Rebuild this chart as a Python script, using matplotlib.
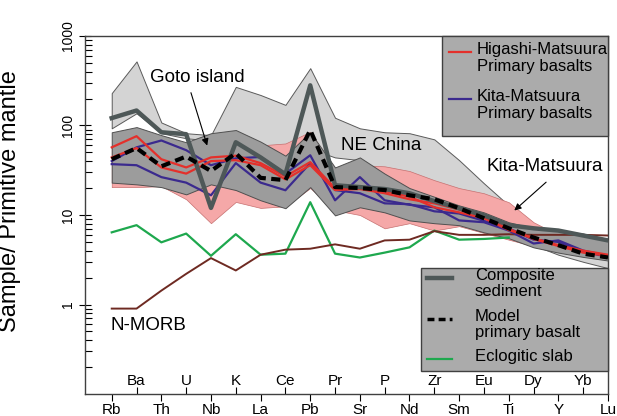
"""
Primitive-mantle normalised spider diagram: Kita/Higashi-Matsuura basalts
against Goto island, NE China, N-MORB, eclogitic slab and composite sediment.
"""

import matplotlib.pyplot as plt
from matplotlib.patches import Rectangle
from matplotlib.lines import Line2D

plt.rcParams['font.family'] = ['Liberation Sans', 'DejaVu Sans']

ELEMENTS = ['Rb', 'Ba', 'Th', 'U', 'Nb', 'K', 'La', 'Ce', 'Pb', 'Pr', 'Sr',
            'P', 'Nd', 'Zr', 'Sm', 'Eu', 'Ti', 'Dy', 'Y', 'Yb', 'Lu']

# fields (upper / lower envelopes)
NE_CHINA_UPPER = [230, 520, 108, 82, 78, 270, 219, 170, 437, 122, 93, 84, 82,
                  70, 41, 22.6, 12.8, 7.3, 6.7, 5.9, 5.2]
NE_CHINA_LOWER = [93, 137, 82, 72, 68, 70, 57, 44, 55, 44, 41, 29, 26.5,
                  20, 14, 10, 7, 4.6, 3.6, 3.0, 2.55]
GOTO_UPPER = [84, 96, 78, 65, 82, 89, 66, 46, 84, 34, 44, 29, 20, 16, 12.8,
              10.7, 8.3, 7.1, 6.7, 6.2, 5.2]
GOTO_LOWER = [23, 22, 20.5, 17, 22, 19, 14.6, 11.9, 20.5, 9.9, 12.2, 10.7,
              8.7, 8.1, 7.7, 6.4, 5.5, 4.35, 3.8, 3.4, 3.1]
KITA_FIELD_UPPER = [60, 75, 50, 45, 40, 68, 60, 63, 85, 32, 36, 35, 31,
                    24.5, 20, 17.5, 13.9, 8.3, 6.0, 5.0, 4.2]
KITA_FIELD_LOWER = [20.5, 20.5, 21, 15, 8.1, 14, 12, 12.5, 20, 11.3, 10,
                    7.1, 8.1, 6.7, 7.5, 6.3, 5.3, 4.5, 3.9, 3.5, 3.2]

# sample lines
HIGASHI_1 = [57, 76, 42, 34, 44, 46, 38, 27, 39, 20, 20, 18.5, 16, 12.2,
             10.7, 9.2, 6.8, 5.5, 4.6, 4.0, 3.6]
HIGASHI_2 = [44, 56, 34, 29, 40, 41, 36, 25, 36, 19, 19.5, 17.5, 15, 13.5,
             11.5, 9.6, 7.0, 5.4, 4.5, 3.8, 3.5]
KITA_1 = [40, 57, 68, 53, 36, 43, 44.5, 29, 46.5, 14.6, 26.5, 14.6, 13,
          12.2, 8.7, 8.3, 6.7, 4.8, 5.2, 4.0, 3.5]
KITA_2 = [37, 36, 26.5, 23, 16.6, 38, 23, 18.9, 38, 19, 17.5, 13.5, 13.2,
          11, 10.4, 8.6, 7.1, 5.3, 5.0, 3.9, 3.4]
COMPOSITE = [121, 147, 84, 80, 12, 65, 44, 28.5, 281, 21.5, 20.5, 19.5, 17.5,
             14.3, 11.9, 9.9, 7.7, 7.1, 6.7, 5.9, 5.2]
MODEL = [42, 56, 35, 45, 31, 49, 26, 24.5, 89, 20.5, 20, 19, 16.6, 15, 11.9,
         9.2, 7.1, 5.6, 4.6, 3.7, 3.35]
ECLOGITE = [6.4, 7.7, 4.95, 6.2, 3.5, 6.1, 3.6, 3.7, 13.9, 3.7, 3.35, 3.8,
            4.35, 6.7, 5.3, 5.4, 5.6]
NMORB = [0.9, 0.9, 1.43, 2.2, 3.3, 2.4, 3.6, 4.1, 4.2, 4.7, 4.2, 5.2, 5.3,
         6.6, 6.0, 6.0, 6.1, 6.0, 6.0, 6.0, 5.9]

LIGHT_GREY = '#d4d4d4'
DARK_GREY = '#9c9c9c'
PINK = '#f5a8a8'
LEGEND_GREY = '#ababab'
RED = '#e4302b'
PURPLE = '#3b2a8e'
COMPOSITE_COLOUR = '#4e5858'
GREEN = '#1ea84e'
BROWN = '#6e2a22'


def ax_frac(ax_px_x, ax_px_y):
    # pixel position in the 617x416 picture -> axes fraction
    return (ax_px_x - 85) / 523, (394 - ax_px_y) / 358


def main() -> None:
    fig = plt.figure(figsize=(6.17, 4.16), dpi=100)
    ax = fig.add_axes([85 / 617, 1 - 394 / 416, 523 / 617, 358 / 416])

    x = list(range(len(ELEMENTS)))

    ax.fill_between(x, NE_CHINA_LOWER, NE_CHINA_UPPER, facecolor=LIGHT_GREY,
                    edgecolor='#5a5a5a', lw=0.7, zorder=1)
    ax.fill_between(x, KITA_FIELD_LOWER, KITA_FIELD_UPPER, facecolor=PINK,
                    edgecolor='#c77070', lw=0.5, zorder=2)
    ax.fill_between(x, GOTO_LOWER, GOTO_UPPER, facecolor=DARK_GREY,
                    edgecolor='#505050', lw=0.7, zorder=3)

    ax.plot(x[:len(ECLOGITE)], ECLOGITE, color=GREEN, lw=1.6, zorder=4)
    ax.plot(x, NMORB, color=BROWN, lw=1.4, zorder=4)

    for series in (KITA_1, KITA_2):
        ax.plot(x, series, color=PURPLE, lw=1.6, zorder=5)
    for series in (HIGASHI_1, HIGASHI_2):
        ax.plot(x, series, color=RED, lw=1.6, zorder=5)

    ax.plot(x, COMPOSITE, color=COMPOSITE_COLOUR, lw=3.2, zorder=6)
    ax.plot(x, MODEL, color='black', lw=3, dashes=(2.2, 1.3), zorder=7)

    ax.set_yscale('log')
    ax.set_ylim(0.1, 1000)
    ax.set_xlim(-1.077, 20)

    ax.set_yticks([1, 10, 100, 1000], labels=['1', '10', '100', '1000'])
    ax.tick_params(axis='y', which='major', direction='inout', length=8,
                   labelsize=10, labelrotation=90, width=0.8)
    ax.tick_params(axis='y', which='minor', direction='in', length=5,
                   width=0.8)
    for label in ax.get_yticklabels():
        label.set_verticalalignment('center')

    ax.set_xticks(x[0::2], labels=ELEMENTS[0::2])
    ax.set_xticks(x[1::2], labels=ELEMENTS[1::2], minor=True)
    ax.tick_params(axis='x', which='major', direction='out', length=5,
                   labelsize=11, pad=1.5, width=0.8)
    ax.tick_params(axis='x', which='minor', direction='in', length=5,
                   labelsize=11, pad=-14.5, width=0.8)

    for spine in ax.spines.values():
        spine.set_color('#404040')
        spine.set_linewidth(1)

    ax.set_ylabel('Sample/ Primitive mantle', fontsize=17)
    ax.yaxis.set_label_coords(-0.122, 0.54)

    # annotations
    ax.text(3.44, 348, 'Goto island', fontsize=13.5, ha='center',
            va='center', zorder=9)
    ax.annotate('', xy=(3.88, 55.7), xytext=(3.16, 249),
                arrowprops=dict(arrowstyle='-|>', color='black', lw=0.8,
                                mutation_scale=10), zorder=9)
    ax.text(10.86, 60, 'NE China', fontsize=13.5, ha='center', va='center',
            zorder=9)
    ax.text(17.47, 35, 'Kita-Matsuura', fontsize=13.5, ha='center',
            va='center', zorder=9)
    ax.annotate('', xy=(16.14, 10.7), xytext=(17.59, 24.4),
                arrowprops=dict(arrowstyle='-|>', color='black', lw=0.8,
                                mutation_scale=10), zorder=9)
    ax.text(1.46, 0.58, 'N-MORB', fontsize=13.5, ha='center', va='center',
            zorder=9)

    # upper legend box
    x0, y0 = ax_frac(442, 136)
    x1, y1 = ax_frac(608, 36)
    ax.add_patch(Rectangle((x0, y0), x1 - x0, y1 - y0, transform=ax.transAxes,
                           facecolor=LEGEND_GREY, edgecolor='#404040', lw=1,
                           zorder=10, clip_on=False))
    upper_entries = [
        (RED, 'Higashi-Matsuura\nPrimary basalts', 52),
        (PURPLE, 'Kita-Matsuura\nPrimary basalts', 99),
    ]
    for colour, label, py in upper_entries:
        lx0, ly = ax_frac(449, py)
        lx1, _ = ax_frac(471, py)
        ax.add_line(Line2D([lx0, lx1], [ly, ly], color=colour, lw=1.6,
                           transform=ax.transAxes, zorder=11))
        tx, ty = ax_frac(477, py - 10)
        ax.text(tx, ty, label, transform=ax.transAxes, fontsize=12,
                ha='left', va='top', linespacing=1.15, zorder=11)

    # lower legend box
    x0, y0 = ax_frac(421, 371)
    x1, y1 = ax_frac(608, 268)
    ax.add_patch(Rectangle((x0, y0), x1 - x0, y1 - y0, transform=ax.transAxes,
                           facecolor=LEGEND_GREY, edgecolor='#404040', lw=1,
                           zorder=10, clip_on=False))
    lower_entries = [
        (dict(color=COMPOSITE_COLOUR, lw=3.2), 'Composite\nsediment', 278),
        (dict(color='black', lw=2.5, dashes=(2, 1.2)),
         'Model\nprimary basalt', 319),
        (dict(color=GREEN, lw=1.6), 'Eclogitic slab', 359),
    ]
    for style, label, py in lower_entries:
        lx0, ly = ax_frac(427, py)
        lx1, _ = ax_frac(452, py)
        ax.add_line(Line2D([lx0, lx1], [ly, ly], transform=ax.transAxes,
                           zorder=11, **style))
        tx, ty = ax_frac(475, py - 10)
        ax.text(tx, ty, label, transform=ax.transAxes, fontsize=12,
                ha='left', va='top', linespacing=1.05, zorder=11)

    fig.savefig('out.png', dpi=100)


if __name__ == '__main__':
    main()
